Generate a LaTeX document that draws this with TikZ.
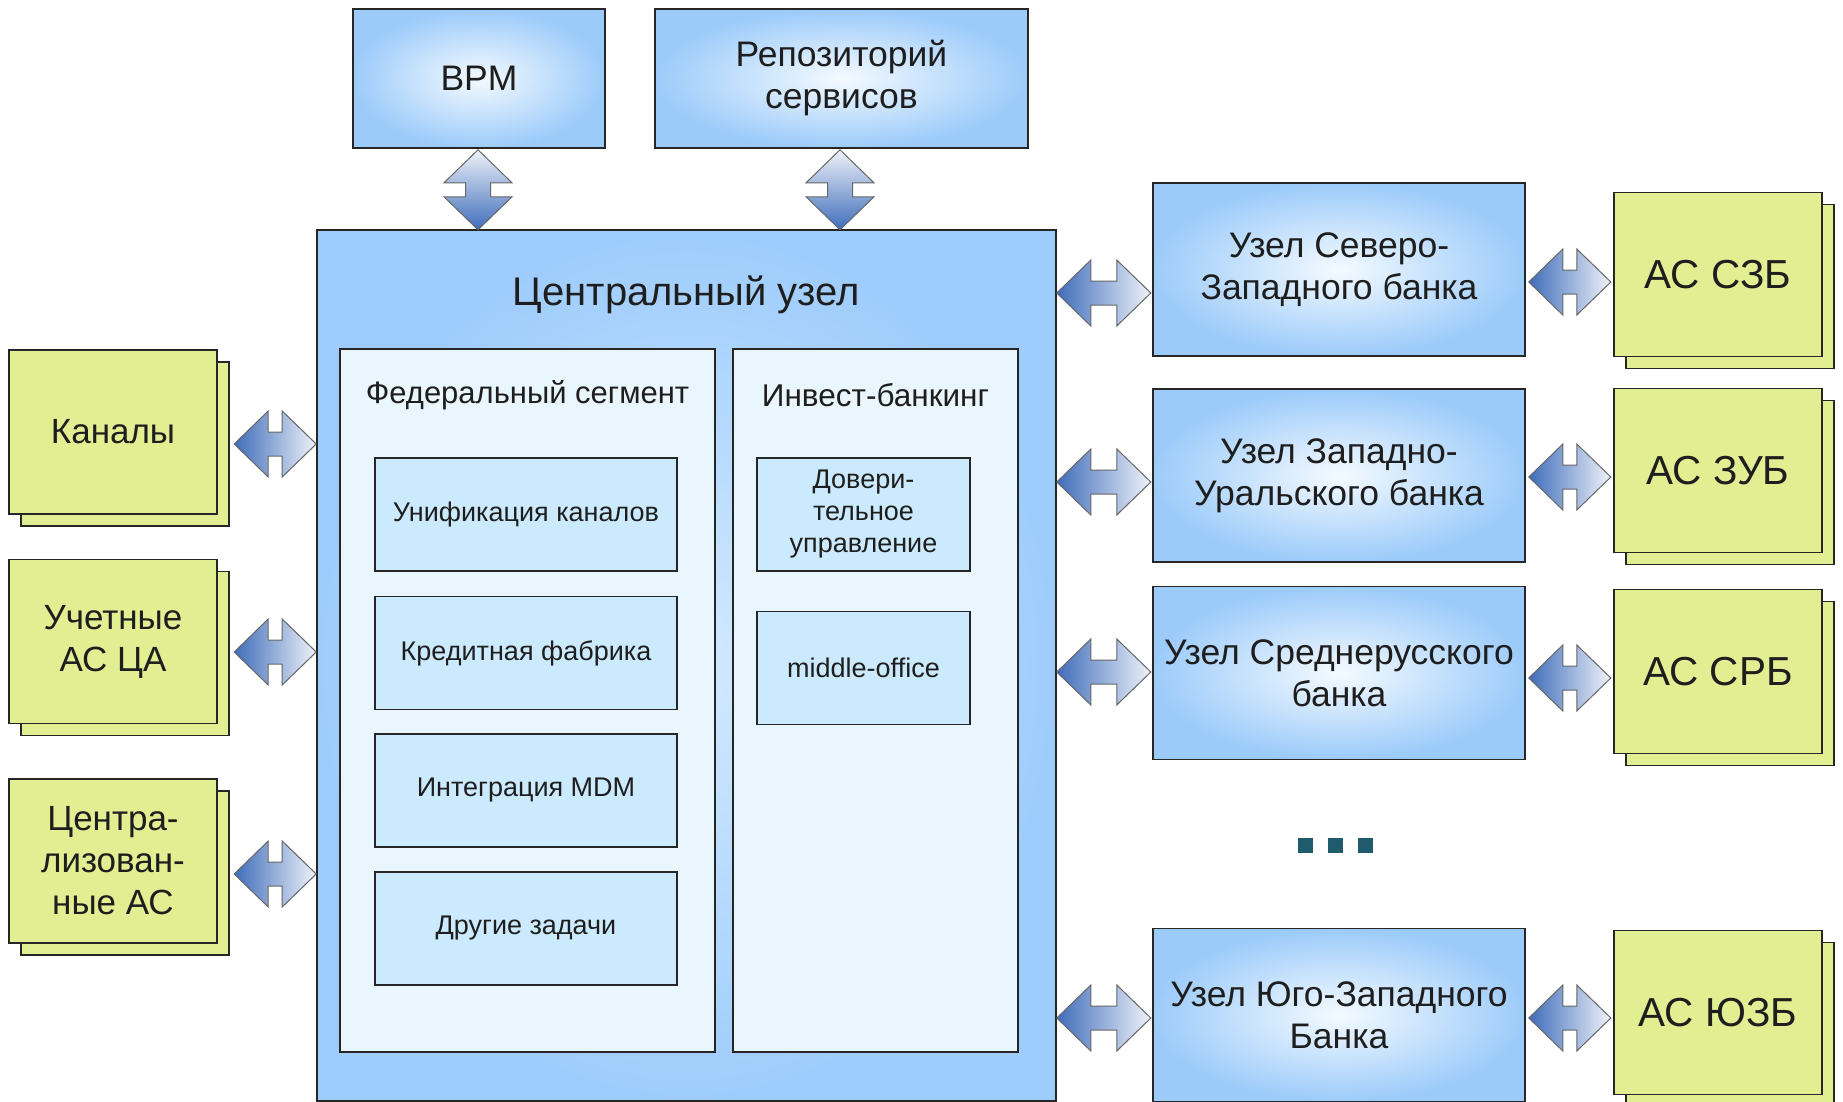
\documentclass[tikz,border=0pt]{standalone}
\usepackage{fontspec}
\setmainfont{Liberation Sans}
\usetikzlibrary{positioning,shadows,calc}

\definecolor{boxblue}{HTML}{9CCBFA}
\definecolor{boxglow}{HTML}{F4FAFF}
\definecolor{centblue}{HTML}{9ECCFC}
\definecolor{centglow}{HTML}{D2EAFE}
\definecolor{segfill}{HTML}{EAF6FE}
\definecolor{taskfill}{HTML}{CCEAFD}
\definecolor{asgreen}{HTML}{E1EE92}
\definecolor{arrowdark}{HTML}{3F6DBA}
\definecolor{arrowlight}{HTML}{EEF2F9}
\definecolor{dotteal}{HTML}{1F5B6C}
\definecolor{textdark}{HTML}{1E1E1E}

\tikzset{
  every node/.style={text=textdark},
  frame/.style={draw=black!85, line width=1.6pt, inner sep=0pt, align=center},
  bluebox/.style={frame, inner color=boxglow, outer color=boxblue, font=\fontsize{35.5}{42}\selectfont},
  centbox/.style={frame, inner color=centglow, outer color=centblue},
  segbox/.style={frame, fill=segfill},
  taskbox/.style={frame, fill=taskfill, font=\fontsize{27}{32}\selectfont},
  asbox/.style={frame, fill=asgreen, copy shadow={shadow xshift=12pt, shadow yshift=-12pt},
    minimum width=208pt, minimum height=164pt, font=\fontsize{35}{42}\selectfont},
  asbank/.style={asbox, font=\fontsize{40.5}{46}\selectfont},
  arrowline/.style={draw=black!60, line width=1pt},
  pics/harrow/.style={code={
    \shadedraw[arrowline, left color=arrowdark, right color=arrowlight]
      (-#1-34,0) -- (-#1,33) -- (-#1,12) -- (#1,12) -- (#1,33) -- (#1+34,0)
      -- (#1,-33) -- (#1,-12) -- (-#1,-12) -- (-#1,-33) -- cycle;}},
  pics/varrow/.style={code={
    \shadedraw[arrowline, top color=arrowlight, bottom color=arrowdark]
      (0,-40) -- (34,-7) -- (12.5,-7) -- (12.5,7) -- (34,7) -- (0,40)
      -- (-34,7) -- (-12.5,7) -- (-12.5,-7) -- (-34,-7) -- cycle;}},
}

\begin{document}
\begin{tikzpicture}[x=1pt, y=-1pt]
\useasboundingbox (0,0) rectangle (1843,1102);

% top
\node[bluebox, minimum width=252pt, minimum height=139pt] (bpm) at (479,78.5) {BPM};
\node[bluebox, minimum width=373pt, minimum height=139pt] (repo) at (841.5,78.5) {Репозиторий\\сервисов};

% central node
\node[centbox, minimum width=739pt, minimum height=871pt] (central) at (686.5,665.5) {};
\node[font=\fontsize{40}{46}\selectfont] (centtitle) at ([yshift=-66pt]central.north) {Центральный узел};
\node[segbox, minimum width=375pt, minimum height=703pt] (fed) at (527.5,700.5) {};
\node[segbox, minimum width=285pt, minimum height=703pt] (invest) at (875.5,700.5) {};
\node[font=\fontsize{31}{36}\selectfont] (fedtitle) at ([yshift=-47pt]fed.north) {Федеральный сегмент};
\node[font=\fontsize{31.5}{36}\selectfont] (investtitle) at ([yshift=-47pt]invest.north) {Инвест-банкинг};

\node[taskbox, minimum width=302pt, minimum height=113pt] (unif) at (526,514.5) {Унификация каналов};
\node[taskbox, minimum width=302pt, minimum height=113pt] (kredit) at (526,653) {Кредитная фабрика};
\node[taskbox, minimum width=302pt, minimum height=113pt] (mdm) at (526,790.5) {Интеграция MDM};
\node[taskbox, minimum width=302pt, minimum height=113pt] (drugie) at (526,928.5) {Другие задачи};
\node[taskbox, minimum width=213pt, minimum height=113pt] (dover) at (863.5,514.5) {Довери-\\тельное\\управление};
\node[taskbox, minimum width=213pt, minimum height=113pt] (midoff) at (863.5,668) {middle-office};

% left systems
\node[asbox] (kanaly) at (113,432) {Каналы};
\node[asbox] (uchet) at (113,641.5) {Учетные\\АС ЦА};
\node[asbox] (centras) at (113,861) {Центра-\\лизован-\\ные АС};

% bank nodes
\node[bluebox, minimum width=372pt, minimum height=173pt] (szb) at (1339,269.5) {Узел Северо-\\Западного банка};
\node[bluebox, minimum width=372pt, minimum height=173pt] (zub) at (1339,475.5) {Узел Западно-\\Уральского банка};
\node[bluebox, minimum width=372pt, minimum height=173pt] (srb) at (1339,673) {Узел Среднерусского\\банка};
\node[bluebox, minimum width=372pt, minimum height=173pt] (uzb) at (1339,1015) {Узел Юго-Западного\\Банка};

% bank systems
\node[asbank] (asszb) at (1718,274.5) {АС СЗБ};
\node[asbank] (aszub) at (1718,470.5) {АС ЗУБ};
\node[asbank] (assrb) at (1718,671.5) {АС СРБ};
\node[asbank] (asuzb) at (1718,1012.5) {АС ЮЗБ};

\fill[dotteal] (1298,838) rectangle +(15,15);
\fill[dotteal] (1328,838) rectangle +(15,15);
\fill[dotteal] (1358,838) rectangle +(15,15);

% arrows
\pic at ($(bpm.south)+(-1,41)$) {varrow};
\pic at ($(repo.south)+(-1.5,41)$) {varrow};

\pic at ($(kanaly.east -| central.west)+(-41,12)$) {harrow=7};
\pic at ($(uchet.east -| central.west)+(-41,10.5)$) {harrow=7};
\pic at ($(centras.east -| central.west)+(-41,13)$) {harrow=7};

\pic at ($(szb.west -| central.east)+(47,23.5)$) {harrow=13};
\pic at ($(zub.west -| central.east)+(47,6.5)$) {harrow=13};
\pic at ($(srb.west -| central.east)+(47,-1)$) {harrow=13};
\pic at ($(uzb.west -| central.east)+(47,3)$) {harrow=13};

\pic at ($(asszb.west -| szb.east)+(44,7.5)$) {harrow=7};
\pic at ($(aszub.west -| zub.east)+(44,6.5)$) {harrow=7};
\pic at ($(assrb.west -| srb.east)+(44,6.5)$) {harrow=7};
\pic at ($(asuzb.west -| uzb.east)+(44,5.5)$) {harrow=7};
\end{tikzpicture}
\end{document}
